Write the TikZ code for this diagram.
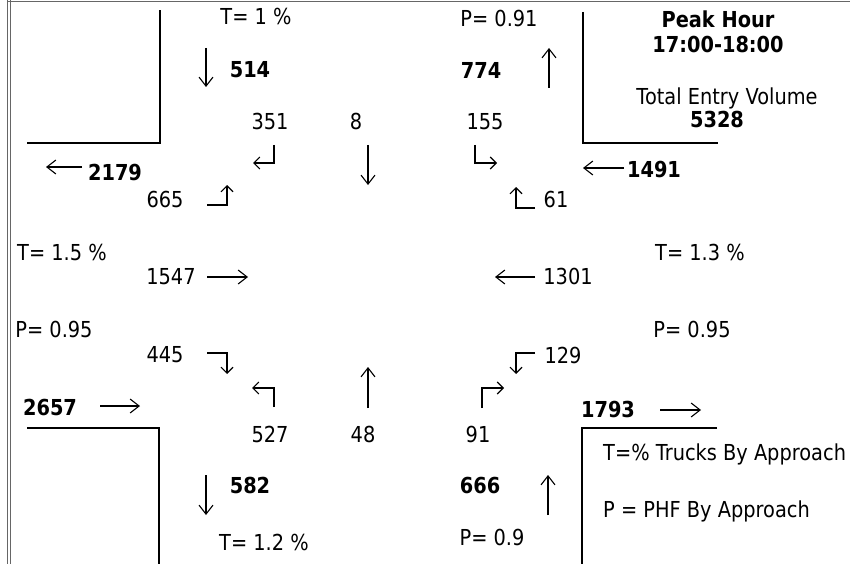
\documentclass[tikz,border=0pt]{standalone}
\usepackage{fontspec}
\setmainfont{DejaVu Sans}[FakeStretch=0.88]
\usetikzlibrary{arrows.meta}
\begin{document}
\begin{tikzpicture}[x=1pt,y=-1pt,
  lbl/.style={anchor=base,inner sep=0pt,font=\fontsize{22}{26}\selectfont},
  blbl/.style={anchor=base,inner sep=0pt,font=\fontsize{22}{26}\selectfont\bfseries},
  llbl/.style={anchor=base west,inner sep=0pt,font=\fontsize{22}{26}\selectfont},
  flow/.style={line width=1.1pt,-{Straight Barb[length=9pt,width=14pt]}},
  turn/.style={line width=1.1pt,-{Straight Barb[length=6pt,width=12pt]}},
  curb/.style={line width=1.4pt},
  frame/.style={line width=0.9pt,black!60}]
\useasboundingbox (0,0) rectangle (850,564);
% frame
\draw[frame] (7,0) -- (7,564);
\draw[frame] (10,0) -- (10,564);
\draw[frame] (7,1) -- (850,1);
% curbs
\draw[curb] (27,143) -| (160,10);
\draw[curb] (583,12) |- (718,143);
\draw[curb] (27,428) -| (159,564);
\draw[curb] (717,428) -| (582,564);
% north approach
\node[lbl]  (tn)  at (256,25) {T= 1 \%};
\node[blbl] (v514) at (250,78) {514};
\node[lbl]  (n351) at (270,130) {351};
\node[lbl]  (n8)   at (356,130) {8};
\node[lbl]  (n155) at (485,130) {155};
\node[lbl]  (pn)  at (499,27) {P= 0.91};
\node[blbl] (v774) at (481,79) {774};
% header
\node[blbl] (ph)  at (718,28) {Peak Hour};
\node[blbl] (pt)  at (718,53) {17:00-18:00};
\node[lbl]  (tev) at (727,105) {Total Entry Volume};
\node[blbl] (tv)  at (717,128) {5328};
% west
\node[blbl] (v2179) at (115,180) {2179};
\node[lbl]  (n665) at (165,207) {665};
\node[lbl]  (tw)   at (62,260) {T= 1.5 \%};
\node[lbl]  (n1547) at (171,284) {1547};
\node[lbl]  (pw)   at (54,337) {P= 0.95};
\node[lbl]  (n445) at (165,362) {445};
\node[blbl] (v2657) at (50,415) {2657};
% east
\node[blbl] (v1491) at (654,178) {1491};
\node[lbl]  (n61)  at (556,207) {61};
\node[lbl]  (te)   at (700,260) {T= 1.3 \%};
\node[lbl]  (n1301) at (568,284) {1301};
\node[lbl]  (pe)   at (692,337) {P= 0.95};
\node[lbl]  (n129) at (563,363) {129};
\node[blbl] (v1793) at (608,417) {1793};
% south
\node[lbl]  (n527) at (270,442) {527};
\node[lbl]  (n48)  at (363,442) {48};
\node[lbl]  (n91)  at (478,442) {91};
\node[blbl] (v582) at (250,493) {582};
\node[blbl] (v666) at (480,493) {666};
\node[lbl]  (ts)   at (264,550) {T= 1.2 \%};
\node[lbl]  (ps)   at (492,545) {P= 0.9};
% legend
\node[llbl] (lt) at (603,460) {T=\% Trucks By Approach};
\node[llbl] (lp) at (603,517) {P = PHF By Approach};
% approach arrows
\coordinate (a1s) at (206,48);  \coordinate (a1e) at (206,87);
\coordinate (a2s) at (549,88);  \coordinate (a2e) at (549,48);
\coordinate (a3s) at (82,167);  \coordinate (a3e) at (46,167);
\coordinate (a4s) at (624,168); \coordinate (a4e) at (583,168);
\coordinate (a5s) at (100,406); \coordinate (a5e) at (140,406);
\coordinate (a6s) at (660,410); \coordinate (a6e) at (701,410);
\coordinate (a7s) at (206,475); \coordinate (a7e) at (206,515);
\coordinate (a8s) at (548,515); \coordinate (a8e) at (548,475);
\draw[flow] (a1s) -- (a1e);
\draw[flow] (a2s) -- (a2e);
\draw[flow] (a3s) -- (a3e);
\draw[flow] (a4s) -- (a4e);
\draw[flow] (a5s) -- (a5e);
\draw[flow] (a6s) -- (a6e);
\draw[flow] (a7s) -- (a7e);
\draw[flow] (a8s) -- (a8e);
% through movements
\draw[flow] (368,145) -- (368,185);
\draw[flow] (207,277) -- (248,277);
\draw[flow] (535,277) -- (495,277);
\draw[flow] (368,408) -- (368,367);
% turning movements
\draw[turn] (274,145) -- (274,163) -- (253,163);
\draw[turn] (475,145) -- (475,163) -- (497,163);
\draw[turn] (207,205) -- (227,205) -- (227,185);
\draw[turn] (535,208) -- (516,208) -- (516,187);
\draw[turn] (207,353) -- (227,353) -- (227,374);
\draw[turn] (535,353) -- (516,353) -- (516,374);
\draw[turn] (274,407) -- (274,388) -- (252,388);
\draw[turn] (482,408) -- (482,388) -- (504,388);
\end{tikzpicture}
\end{document}
